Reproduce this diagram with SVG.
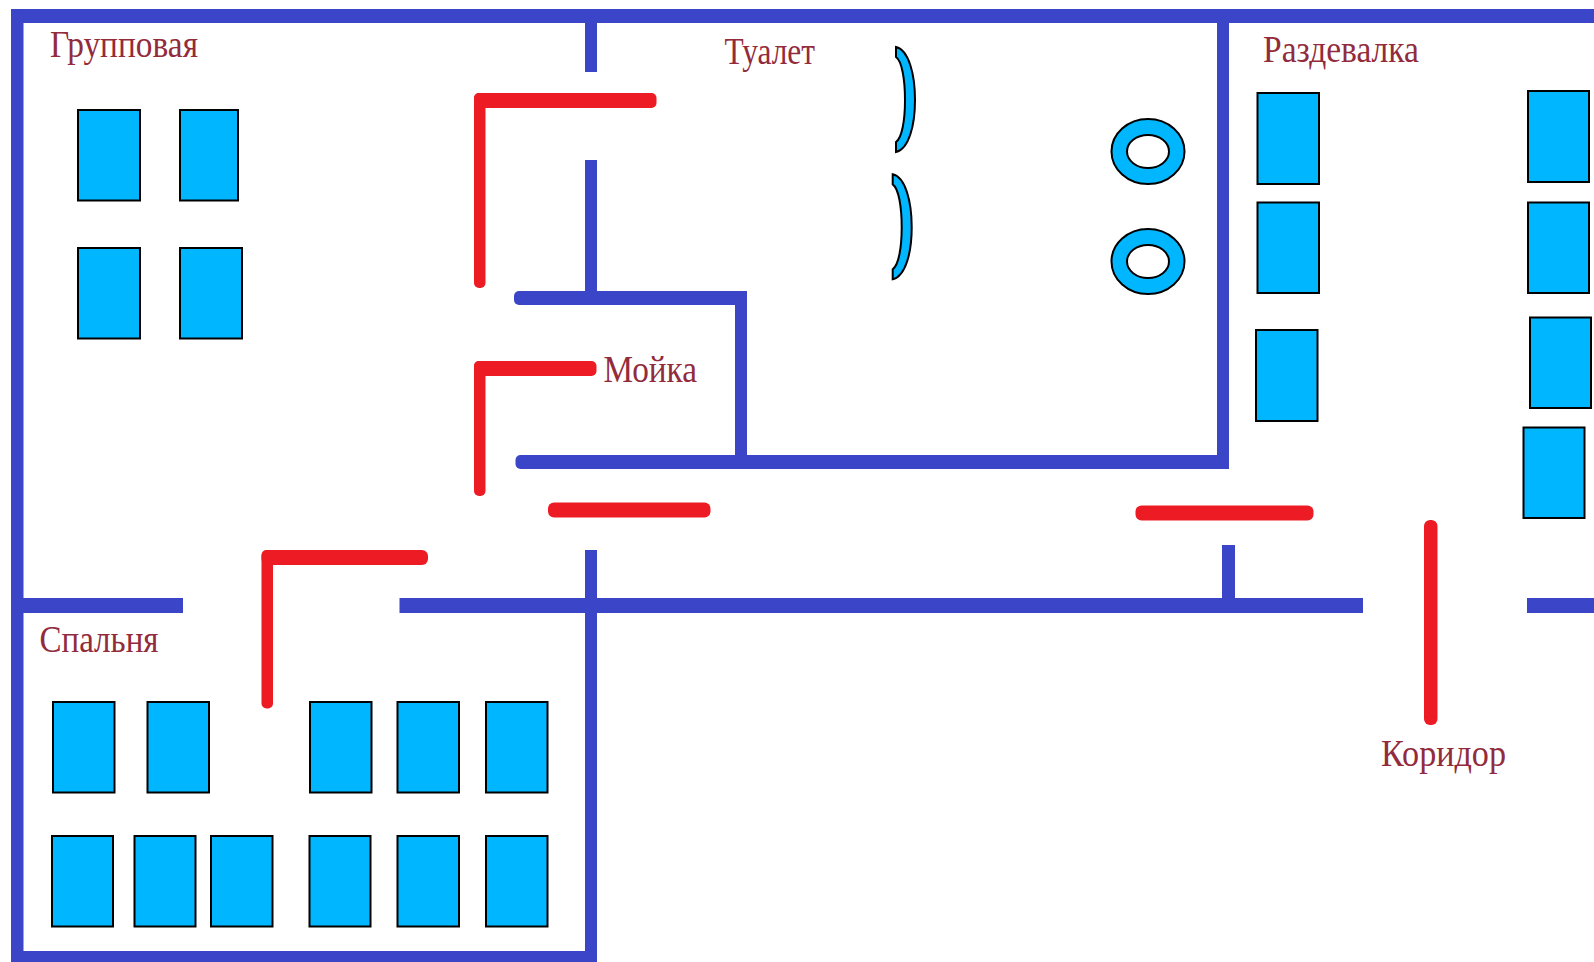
<svg xmlns="http://www.w3.org/2000/svg" width="1594" height="962" viewBox="0 0 1594 962">
<style>
.w{fill:#3b45c7}
.d{fill:#ed1c24}
.f{fill:#00b7ff;stroke:#000;stroke-width:2}
.t{fill:#922c3c;font-family:"Liberation Serif","Times New Roman",serif;font-size:37px}
</style>
<rect width="1594" height="962" fill="#fff"/>
<g id="walls">
<rect class="w" x="11" y="9" width="1583" height="14"/>
<rect class="w" x="11" y="9" width="12.500" height="953"/>
<rect class="w" x="11" y="951" width="586" height="11"/>
<rect class="w" x="585" y="23" width="12" height="49"/>
<rect class="w" x="585" y="160" width="12" height="135"/>
<rect class="w" x="514" y="291" width="233" height="14" rx="5"/>
<rect class="w" x="735" y="291" width="12" height="170"/>
<rect class="w" x="515.500" y="455" width="713.500" height="14" rx="5"/>
<rect class="w" x="1217" y="23" width="12" height="446"/>
<rect class="w" x="11" y="598" width="172" height="15"/>
<rect class="w" x="399.500" y="598" width="963.500" height="15"/>
<rect class="w" x="1527" y="598" width="67" height="15"/>
<rect class="w" x="585" y="550" width="12" height="412"/>
<rect class="w" x="1222" y="545" width="13" height="59"/>
</g>
<g id="doors">
<rect class="d" x="474" y="93" width="182.500" height="15" rx="5"/>
<rect class="d" x="474" y="93" width="11.500" height="195" rx="5"/>
<rect class="d" x="474" y="361" width="122.500" height="15" rx="5"/>
<rect class="d" x="474" y="361" width="11.500" height="135" rx="5"/>
<rect class="d" x="548" y="502.500" width="162.500" height="15" rx="6"/>
<rect class="d" x="261.500" y="550" width="166.500" height="15" rx="6"/>
<rect class="d" x="261.500" y="550" width="11.500" height="158.500" rx="5"/>
<rect class="d" x="1135.500" y="505.500" width="178" height="15" rx="6"/>
<rect class="d" x="1424" y="520" width="13.500" height="205" rx="6"/>
</g>
<g id="group-room-furniture">
<rect class="f" x="78" y="110" width="62" height="90.500"/>
<rect class="f" x="180" y="110" width="58" height="90.500"/>
<rect class="f" x="78" y="248" width="62" height="90.500"/>
<rect class="f" x="180" y="248" width="62" height="90.500"/>
</g>
<g id="toilet-fixtures">
<path id="urinal-1" class="f" d="M896 47C909 50 915 75 915 100C915 125 909 149 896 152L896 142C902 138 905 120 905 100C905 80 902 61 896 57Z"/>
<path id="urinal-2" class="f" d="M896 47C909 50 915 75 915 100C915 125 909 149 896 152L896 142C902 138 905 120 905 100C905 80 902 61 896 57Z" transform="translate(-3.300 127.300)"/>
<path id="toilet-1" class="f" fill-rule="evenodd" d="M1111.500 151.500a36.500 32.500 0 1 0 73 0a36.500 32.500 0 1 0 -73 0ZM1127 151.500a21 16.500 0 1 0 42 0a21 16.500 0 1 0 -42 0Z"/>
<path id="toilet-2" class="f" fill-rule="evenodd" d="M1111.500 261.500a36.500 32.500 0 1 0 73 0a36.500 32.500 0 1 0 -73 0ZM1127 261.500a21 16.500 0 1 0 42 0a21 16.500 0 1 0 -42 0Z"/>
</g>
<g id="changing-room-furniture">
<rect class="f" x="1257.500" y="93" width="61.500" height="91"/>
<rect class="f" x="1257.500" y="202.500" width="61.500" height="90.500"/>
<rect class="f" x="1256" y="330" width="61.500" height="91"/>
<rect class="f" x="1528" y="91" width="61" height="91"/>
<rect class="f" x="1528" y="202.500" width="61" height="90.500"/>
<rect class="f" x="1530" y="317.500" width="61" height="90.500"/>
<rect class="f" x="1523.500" y="427.500" width="61" height="90.500"/>
</g>
<g id="bedroom-furniture">
<rect class="f" x="53" y="702" width="61.500" height="90.500"/>
<rect class="f" x="147.500" y="702" width="61.500" height="90.500"/>
<rect class="f" x="310" y="702" width="61.500" height="90.500"/>
<rect class="f" x="397.500" y="702" width="61.500" height="90.500"/>
<rect class="f" x="486" y="702" width="61.500" height="90.500"/>
<rect class="f" x="52" y="836" width="61" height="90.500"/>
<rect class="f" x="134.500" y="836" width="61" height="90.500"/>
<rect class="f" x="211" y="836" width="61.500" height="90.500"/>
<rect class="f" x="309.500" y="836" width="61" height="90.500"/>
<rect class="f" x="397.500" y="836" width="61.500" height="90.500"/>
<rect class="f" x="486" y="836" width="61.500" height="90.500"/>
</g>
<g id="labels">
<text id="label-group" class="t" x="50" y="57" textLength="148" lengthAdjust="spacingAndGlyphs">Групповая</text>
<text id="label-toilet" class="t" x="724.500" y="64" textLength="90.500" lengthAdjust="spacingAndGlyphs">Туалет</text>
<text id="label-changing" class="t" x="1263" y="62" textLength="156" lengthAdjust="spacingAndGlyphs">Раздевалка</text>
<text id="label-wash" class="t" x="603.500" y="381.500" textLength="93.500" lengthAdjust="spacingAndGlyphs">Мойка</text>
<text id="label-bedroom" class="t" x="39.500" y="652" textLength="119" lengthAdjust="spacingAndGlyphs">Спальня</text>
<text id="label-corridor" class="t" x="1381" y="766" textLength="125" lengthAdjust="spacingAndGlyphs">Коридор</text>
</g>
</svg>
